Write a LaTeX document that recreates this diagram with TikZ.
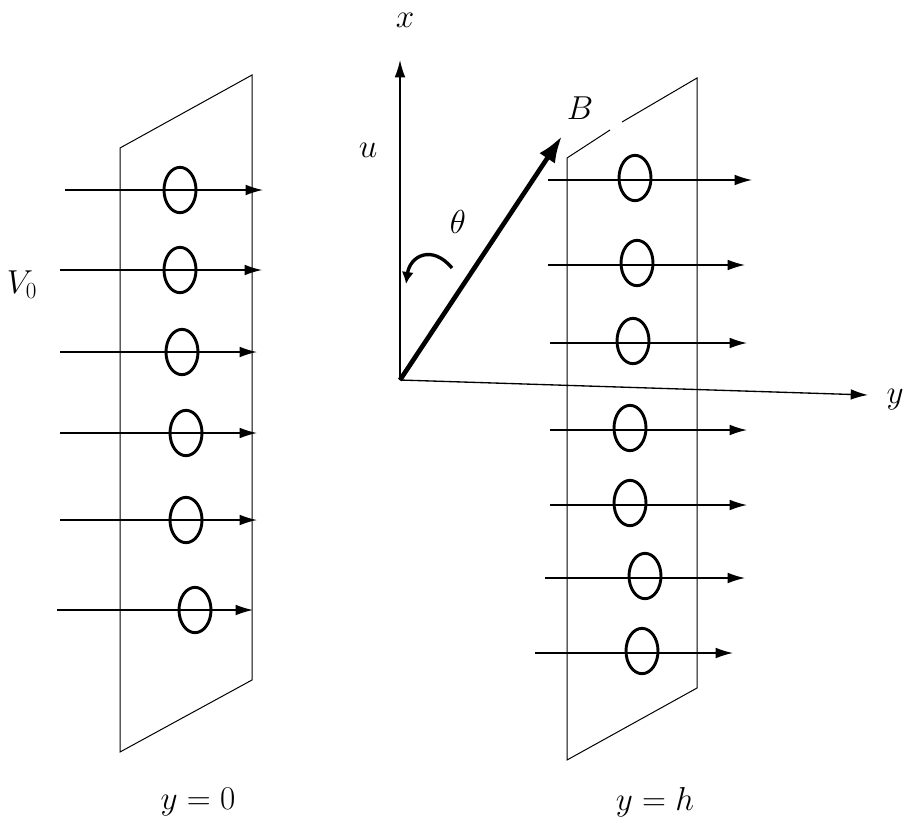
\documentclass[tikz,border=0pt]{standalone}
\usepackage{amsmath}
\usetikzlibrary{arrows.meta,shapes.geometric}
\tikzset{every picture/.style={line width=0.75pt}}
\tikzset{flow/.style={-{Latex[length=13pt,width=8pt]},line width=1pt},
  ring/.style={draw,line width=2.2pt,ellipse,minimum width=24pt,minimum height=34pt,inner sep=0pt},
  lbl/.style={font=\fontsize{24}{28}\selectfont}}
\begin{document}
\begin{tikzpicture}[x=0.75pt,y=0.75pt,yscale=-1,xscale=1]
	\useasboundingbox (0,0) rectangle (909,825);
	
	%Shape: left plate
	\draw (120,148) -- (252,75) -- (252,680) -- (120,752) -- cycle ;
	%Shape: right plate
	\draw (567,158) -- (567,760) -- (697,688) -- (697,78) -- (622,122) ;
	\draw (567,158) -- (610,130) ;
	
	%Flow lines left
	\foreach \ya/\xs/\xe/\cx/\n in {190/65/263/180/1,270/60/262/180/2,352/60/257/182/3,433/60/257/186/4,520/60/257/186/5,610/57/253/195/6}{
		\coordinate (la\n) at (\xs,\ya);
		\coordinate (lb\n) at (\xe,\ya);
		\draw [flow] (la\n) -- (lb\n);
		\node [ring] (lc\n) at (\cx,\ya) {};
	}
	%Flow lines right
	\foreach \ya/\xs/\xe/\cx/\n in {180/548/752/635/1,265/548/745/637/2,343/550/747/633/3,430/550/747/630/4,505/550/747/630/5,578/545/745/645/6,653/535/733/642/7}{
		\coordinate (ra\n) at (\xs,\ya);
		\coordinate (rb\n) at (\xe,\ya);
		\draw [flow] (ra\n) -- (rb\n);
		\node [ring] (rc\n) at (\cx,\ya-2) {};
	}
	
	%Axes
	\coordinate (o) at (400,380);
	\coordinate (xt) at (400,60);
	\coordinate (yt) at (868,395);
	\coordinate (bt) at (562,136);
	\draw [flow] (o) -- (xt);
	\draw [flow] (o) -- (yt);
	\draw [-{Latex[length=20pt,width=14pt]},line width=3.5pt] (o) -- (bt);
	%Curve Lines: angle
	\draw [-{Latex[length=9pt,width=9pt]},line width=2.5pt] (452,268) .. controls (432,244) and (410,256) .. (406,284) ;
	
	% Text Node
	\node [lbl] (xl) at (405,20) {$x$};
	\node [lbl] (ul) at (368,150) {$u$};
	\node [lbl] (tl) at (458,222) {$\theta$};
	\node [lbl] (bl) at (580,108) {$B$};
	\node [lbl] (yl) at (895,400) {$y$};
	\node [lbl] (vl) at (22,285) {$V_0$};
	\node [lbl] (y0) at (198,802) {$y=0$};
	\node [lbl] (yh) at (655,802) {$y=h$};
\end{tikzpicture}
\end{document}
